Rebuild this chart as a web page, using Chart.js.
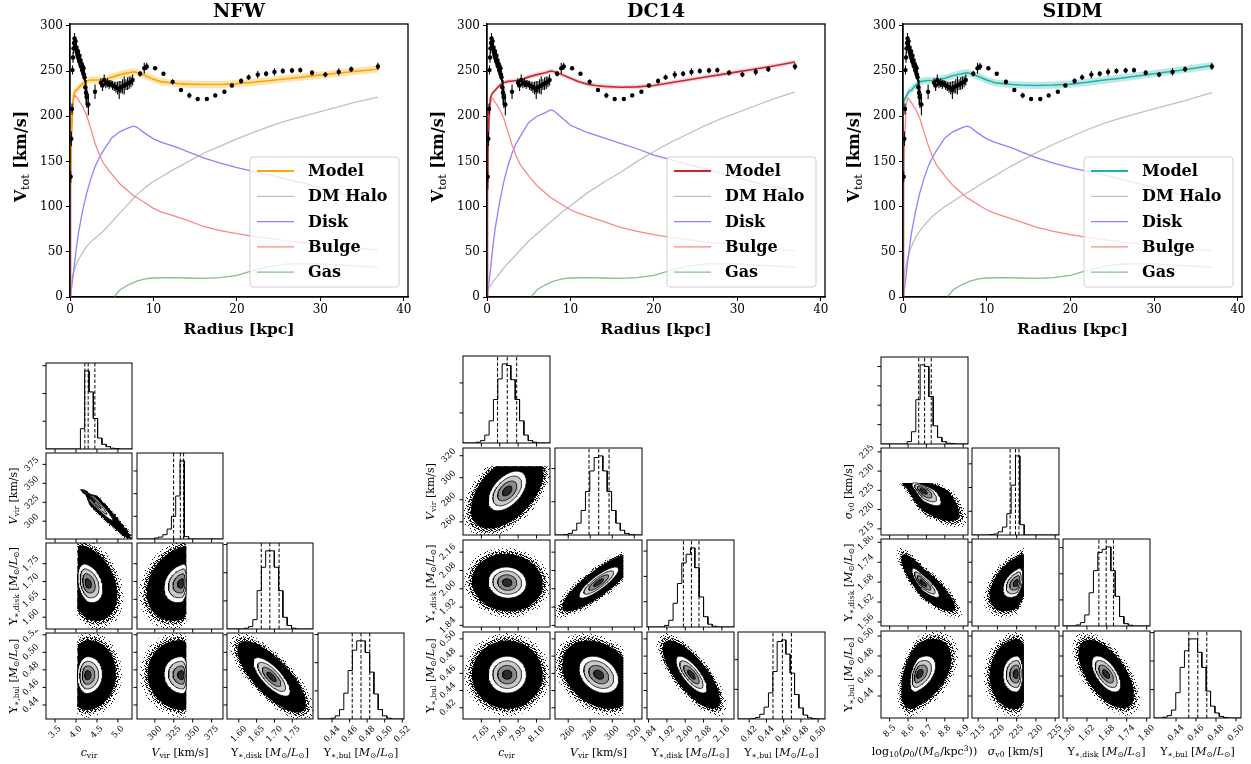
<!DOCTYPE html>
<html>
<head>
<meta charset="utf-8">
<script src="https://cdn.jsdelivr.net/npm/chart.js@4.4.1/dist/chart.umd.min.js"></script>
<style>
  body { margin: 0; background: #fff; width: 1251px; height: 764px; position: relative; overflow: hidden; }
  canvas { position: absolute; }
</style>
</head>
<body>
<script>
// ---------- rotation curve components (shared radius grid, kpc) ----------
const radius = [0, 0.1, 0.2, 0.4, 0.6, 0.8, 1, 1.5, 2, 2.5, 3, 3.5, 4, 5, 6, 7, 7.6, 8, 9, 10, 11, 12, 13, 14, 16, 18, 20, 22, 24, 26, 28, 30, 32, 34, 36.9];

const modelNFW  = [125, 160, 195, 222, 228, 229, 231, 236, 239, 240, 240, 240, 240, 243, 246, 248, 249, 248.5, 245, 241, 238, 237, 236, 235.5, 235, 235, 236, 237.5, 239.5, 241.5, 243.5, 245.5, 247.5, 249.5, 252];
const modelDC14 = [120, 160, 195, 220, 225, 227, 229, 234, 237, 238.5, 239, 239.5, 240, 243.5, 246, 248, 250, 249.5, 246, 242, 238, 235.5, 234, 233, 232, 232.5, 234, 237, 240, 243, 246, 249, 252, 255, 260];
const modelSIDM = [210, 216, 219, 222, 226, 228, 229, 234, 238, 239, 239.5, 239.5, 239.5, 242, 245, 247, 248, 247.5, 244, 240, 237, 236, 235, 234.5, 234, 234.5, 235.5, 237.5, 240, 242, 244.5, 247, 249.5, 252, 256];

const haloNFW  = [0, 12, 18, 26, 32, 37, 41, 49, 56, 61, 65, 69, 73, 83, 93, 103, 109, 113, 121, 128, 133, 139, 144, 149, 159, 167, 175, 182, 189, 195, 200, 205, 210, 215, 221];
const haloDC14 = [5, 7, 9, 12, 15, 18, 20, 26, 32, 37, 42, 47, 52, 62, 70, 78, 83, 86, 94, 101, 108, 115, 121, 127, 138, 150, 161, 171, 180, 189, 197, 204, 211, 218, 227];
const haloSIDM = [0, 20, 27, 37, 45, 51, 56, 66, 73, 79, 84, 89, 93, 100, 106, 112, 115, 117, 123, 129, 134, 140, 145, 150, 160, 169, 177, 185, 192, 198, 203, 208, 213, 218, 226];

const diskA  = [0, 6, 11, 26, 42, 57, 70, 95, 115, 131, 144, 154, 162, 176, 183, 187, 189, 188, 181, 175, 171, 168, 165, 161, 154, 148, 143, 139, 135, 130, 126, 121, 116, 111, 104];
const diskB  = [0, 7, 13, 29, 47, 63, 77, 104, 127, 145, 159, 170, 178, 193, 200, 204, 207, 206, 198, 190, 186, 182, 179, 176, 170, 164, 157, 152, 147, 142, 137, 132, 127, 122, 118];
const bulgeA = [0, 120, 180, 218, 223, 221, 218, 211, 201, 186, 170, 158, 148, 136, 125, 117, 112, 110, 104, 98, 94, 91, 88, 85, 78, 73.5, 70, 67, 64.5, 62, 60, 58, 56, 54.5, 52];
const bulgeB = [0, 118, 177, 214, 220, 218, 215, 208, 198, 183, 168, 156, 146, 134, 123, 115, 110, 108, 102, 96.5, 92.5, 89.5, 86.5, 83.5, 77, 72.5, 69, 66, 63.5, 61, 59, 57, 55, 53.5, 51];

const gasR = [5.3, 6, 7, 8, 9, 10, 12, 14, 16, 18, 20, 22, 24, 26, 28, 30, 32, 34, 36.9];
const gasV = [0, 8, 13.5, 17.5, 20, 21, 21.5, 21, 20.5, 21.5, 24, 29.5, 34, 36.5, 37, 36.5, 35.5, 34.5, 33];

// observed rotation curve
const obsR = [0.08, 0.16, 0.24, 0.3, 0.36, 0.42, 0.48, 0.54, 0.6, 0.66, 0.72, 0.78, 0.84, 0.9, 0.96, 1.02, 1.08, 1.14, 1.2, 1.26, 1.32, 1.38, 1.44, 1.5, 1.56, 1.62, 1.68, 1.74, 1.82, 1.92, 2.02, 2.2,
  3.0, 3.7, 3.9, 4.1, 4.3, 4.5, 4.7, 4.9, 5.1, 5.3, 5.5, 5.7, 5.9, 6.1, 6.3, 6.5, 6.7, 6.9, 7.1, 7.3, 7.5, 8.4, 8.9, 9.2,
  10.2, 11.2, 12.3, 13.3, 14.3, 15.3, 16.4, 17.4, 18.5, 19.4, 20.5, 21.4, 22.5, 23.5, 24.5, 25.5, 26.6, 27.6, 29.0, 30.6, 32.2, 33.7, 36.9];
const obsV = [133, 175, 208, 251, 265, 275, 281, 286, 279, 283, 276, 272, 270, 267, 272, 264, 261, 267, 259, 262, 255, 258, 251, 255, 249, 253, 246, 243, 232, 226, 221, 213,
  227, 237, 234, 240, 236, 237, 235, 236, 234, 233, 232, 231, 229, 232, 233, 234, 235, 236, 237, 238, 240, 247, 253, 255,
  253, 247, 238, 229, 223, 219, 219, 223, 227, 234, 239, 243, 246, 247, 249, 250, 250.5, 251, 248, 246, 249, 252, 255];
const obsErr = [6, 8, 6, 5, 6, 6, 5, 6, 5, 5, 6, 5, 6, 5, 6, 5, 6, 5, 5, 6, 5, 5, 6, 5, 6, 5, 6, 5, 12, 14, 12, 12,
  8, 5, 6, 6, 5, 5, 5, 4, 5, 5, 6, 7, 10, 7, 8, 10, 6, 7, 7, 6, 6, 3, 6, 4,
  2, 2, 3, 2, 3, 2, 2, 2, 2, 2, 3, 3, 4, 3, 4, 3, 3, 3, 3, 3, 4, 3, 4];

const topXTicks = [0, 10, 20, 30, 40];
const topYTicks = [0, 50, 100, 150, 200, 250, 300];

// ---------- posterior summaries ----------
// NFW: c_vir, V_vir, Y_disk, Y_bul
const rangesNFW = [[3.284, 5.336], [276.5, 390], [1.567, 1.808], [0.424, 0.522]];
const ticksNFW = [[3.5, 4.0, 4.5, 5.0], [300, 325, 350, 375], [1.60, 1.65, 1.70, 1.75], [0.44, 0.46, 0.48, 0.50, 0.52]];
const digitsNFW = [1, 0, 2, 2];
const quantNFW = [[4.211, 4.29, 4.45], [324.8, 333.7, 338.0], [1.663, 1.687, 1.713], [0.463, 0.473, 0.483]];
const histNFW = [
  [0, 0, 0, 0, 0, 0, 0, 0, .26, 1, .73, .39, .14, .06, .03, .01, .005, 0, 0, 0],
  [0, 0, 0, 0, .013, .025, .055, .127, .29, .55, 1, .03, 0, 0, 0, 0, 0, 0, 0, 0],
  [0, 0, 0, 0, .01, .03, .12, .49, .79, 1, 1, .79, .49, .15, .045, .01, 0, 0, 0, 0],
  [0, 0, 0, .01, .04, .12, .33, .62, .88, 1, 1, .85, .6, .32, .12, .04, .01, 0, 0, 0]];
const histStepNFW = [.355, .29, .36, .36];
// 2D blobs: row, col, centre, sigma (minus/plus side), correlation, clip box, cloud extent
const blobsNFW = [
  {r: 1, c: 0, mx: 4.32, my: 333, sx: [.1, .28], sy: [16, 5], rho: -.98, clip: [4.03, 9, 0, 341.5], k: 3.5},
  {r: 2, c: 0, mx: 4.28, my: 1.695, sx: [.12, .18], sy: [.027, .027], rho: -.3, clip: [4.03, 9, 0, 9], k: 3.9},
  {r: 3, c: 0, mx: 4.27, my: .474, sx: [.12, .18], sy: [.0105, .0105], rho: .05, clip: [4.03, 9, 0, 9], k: 3.8},
  {r: 2, c: 1, mx: 336, my: 1.695, sx: [12, 4], sy: [.027, .027], rho: .25, clip: [0, 341.5, 0, 9], k: 3.9},
  {r: 3, c: 1, mx: 336, my: .474, sx: [12, 4], sy: [.0105, .0105], rho: -.05, clip: [0, 341.5, 0, 9], k: 3.8},
  {r: 3, c: 2, mx: 1.692, my: .472, sx: [.026, .026], sy: [.011, .011], rho: -.75, k: 3.7}];

// DC14: c_vir, V_vir, Y_disk, Y_bul
const rangesDC14 = [[7.50, 8.21], [248, 327], [1.833, 2.213], [0.407, 0.508]];
const ticksDC14 = [[7.65, 7.80, 7.95, 8.10], [260, 280, 300, 320], [1.84, 1.92, 2.00, 2.08, 2.16], [0.42, 0.44, 0.46, 0.48, 0.50]];
const digitsDC14 = [2, 0, 2, 2];
const quantDC14 = [[7.782, 7.861, 7.938], [278.9, 287.7, 297.1], [1.992, 2.027, 2.06], [0.4476, 0.4585, 0.469]];
const histDC14 = [
  [0, 0, 0, .01, .03, .1, .28, .55, .81, 1, .98, .8, .55, .28, .1, .03, .01, 0, 0, 0],
  [0, 0, .005, .02, .06, .15, .31, .55, .81, .98, 1, .81, .55, .31, .15, .06, .02, .005, 0, 0],
  [0, 0, 0, 0, .02, .085, .3, .55, .81, .92, 1, .75, .38, .13, .035, .01, 0, 0, 0, 0],
  [0, 0, 0, .005, .02, .06, .15, .33, .6, .98, 1, .82, .58, .31, .14, .05, .015, .005, 0, 0]];
const histStepDC14 = [.38, .42, .32, .375];
const blobsDC14 = [
  {r: 1, c: 0, mx: 7.861, my: 288, sx: [.078, .078], sy: [9, 9], rho: .5, clip: [0, 99, 0, 310.5], k: 3.8},
  {r: 2, c: 0, mx: 7.861, my: 2.027, sx: [.078, .078], sy: [.034, .034], rho: -.05, k: 3.7},
  {r: 3, c: 0, mx: 7.861, my: .4585, sx: [.078, .078], sy: [.0107, .0107], rho: 0, k: 3.7},
  {r: 2, c: 1, mx: 287.7, my: 2.027, sx: [9, 9], sy: [.034, .034], rho: .85, clip: [0, 310, 0, 9], k: 3.7},
  {r: 3, c: 1, mx: 287.7, my: .4585, sx: [9, 9], sy: [.0107, .0107], rho: -.3, clip: [0, 310, 0, 9], k: 3.7},
  {r: 3, c: 2, mx: 2.027, my: .4585, sx: [.034, .034], sy: [.0107, .0107], rho: -.75, k: 3.7}];

// SIDM: log10 rho0, sigma_v0, Y_disk, Y_bul
const rangesSIDM = [[8.453, 8.926], [213.4, 236], [1.548, 1.81], [0.418, 0.505]];
const ticksSIDM = [[8.5, 8.6, 8.7, 8.8, 8.9], [215, 220, 225, 230, 235], [1.56, 1.62, 1.68, 1.74, 1.80], [0.44, 0.46, 0.48, 0.50]];
const digitsSIDM = [1, 0, 2, 2];
const quantSIDM = [[8.658, 8.690, 8.726], [223.3, 224.7, 225.6], [1.656, 1.678, 1.70], [0.4528, 0.4618, 0.4708]];
const histSIDM = [
  [0, 0, 0, 0, 0, 0, .03, .155, .56, 1, .98, .6, .23, .084, .03, .01, .005, 0, 0, 0],
  [0, 0, 0, 0, .005, .013, .04, .1, .27, .63, 1, .13, 0, 0, 0, 0, 0, 0, 0, 0],
  [0, 0, 0, .013, .043, .14, .42, .7, .93, .97, 1, .7, .375, .12, .03, .01, 0, 0, 0, 0],
  [0, 0, .01, .03, .1, .32, .64, .85, 1, 1, .83, .64, .34, .15, .064, .02, .005, 0, 0, 0]];
const histStepSIDM = [.245, .3, .33, .36];
const blobsSIDM = [
  {r: 1, c: 0, mx: 8.68, my: 225, sx: [.03, .05], sy: [2.0, 1.0], rho: -.75, clip: [0, 99, 0, 226.9], k: 4.0},
  {r: 2, c: 0, mx: 8.68, my: 1.678, sx: [.03, .045], sy: [.022, .022], rho: -.85, k: 3.9},
  {r: 3, c: 0, mx: 8.66, my: .462, sx: [.025, .045], sy: [.009, .009], rho: .45, k: 3.9},
  {r: 2, c: 1, mx: 225, my: 1.678, sx: [1.8, .8], sy: [.022, .022], rho: .45, clip: [0, 226.9, 0, 9], k: 3.9},
  {r: 3, c: 1, mx: 225, my: .462, sx: [1.8, .8], sy: [.009, .009], rho: .05, clip: [0, 226.9, 0, 9], k: 3.9},
  {r: 3, c: 2, mx: 1.678, my: .462, sx: [.022, .022], sy: [.009, .009], rho: -.6, k: 3.8}];

// axis titles as [text, style] runs: r roman, i italic, b bold, s subscript, p superscript
const lblCvir = [['c', 'i'], ['vir', 's']];
const lblVvir = [['V', 'i'], ['vir', 's'], [' [km/s]', 'r']];
const lblYdisk = [['Υ', 'r'], ['∗,disk', 's'], [' [', 'r'], ['M', 'i'], ['⊙', 's'], ['/', 'r'], ['L', 'i'], ['⊙', 's'], [']', 'r']];
const lblYbul = [['Υ', 'r'], ['∗,bul', 's'], [' [', 'r'], ['M', 'i'], ['⊙', 's'], ['/', 'r'], ['L', 'i'], ['⊙', 's'], [']', 'r']];
const lblRho = [['log', 'r'], ['10', 's'], ['(', 'r'], ['ρ', 'i'], ['0', 's'], ['/(', 'r'], ['M', 'i'], ['⊙', 's'], ['/kpc', 'r'], ['3', 'p'], ['))', 'r']];
const lblSigma = [['σ', 'i'], ['v0', 's'], [' [km/s]', 'r']];

// ---------- helpers ----------
const SERIF = '"DejaVu Serif", serif';

function addCanvas(left, top, w, h) {
  const c = document.createElement('canvas');
  c.width = w; c.height = h;
  c.style.left = left + 'px'; c.style.top = top + 'px';
  c.style.width = w + 'px'; c.style.height = h + 'px';
  document.body.appendChild(c);
  return c;
}

function runFont(style, size, bold) {
  const small = style === 's' || style === 'p';
  const it = style === 'i' ? 'italic ' : '';
  const wt = (style === 'b' || bold) && !small ? 'bold ' : '';
  return it + wt + (small ? size * 0.7 : size) + 'px ' + SERIF;
}

function richWidth(ctx, runs, size, bold) {
  let w = 0;
  runs.forEach(([t, s]) => { ctx.font = runFont(s, size, bold); w += ctx.measureText(t).width; });
  return w;
}

// draws runs centred on (x, y), rotated by angle
function drawRich(ctx, runs, x, y, size, angle, bold) {
  ctx.save();
  ctx.translate(x, y);
  ctx.rotate(angle || 0);
  ctx.fillStyle = '#000';
  ctx.textAlign = 'left';
  ctx.textBaseline = 'alphabetic';
  let cx = -richWidth(ctx, runs, size, bold) / 2;
  runs.forEach(([t, s]) => {
    ctx.font = runFont(s, size, bold);
    const dy = s === 's' ? size * 0.22 : s === 'p' ? -size * 0.38 : 0;
    ctx.fillText(t, cx, size * 0.36 + dy);
    cx += ctx.measureText(t).width;
  });
  ctx.restore();
}

const pts = (xs, ys) => xs.map((x, i) => ({x, y: ys[i]}));

// ---------- top row: rotation curves ----------
const topFrame = {
  id: 'topFrame',
  afterDraw(chart, args, o) {
    const {ctx, chartArea: a} = chart;
    ctx.save();
    ctx.strokeStyle = '#000';
    ctx.lineWidth = 1.3;
    ctx.strokeRect(a.left, a.top, a.right - a.left, a.bottom - a.top);
    ctx.fillStyle = '#000';
    ctx.textAlign = 'center';
    ctx.textBaseline = 'middle';
    ctx.font = 'bold 19px ' + SERIF;
    ctx.fillText(o.title, (a.left + a.right) / 2, 12);
    ctx.font = 'bold 15.5px ' + SERIF;
    ctx.fillText('Radius [kpc]', (a.left + a.right) / 2, 330);
    drawRich(ctx, [['V', 'b'], ['tot', 's'], [' [km/s]', 'b']], a.left - 50, (a.top + a.bottom) / 2 - 4, 16, -Math.PI / 2, true);
    ctx.restore();
  },
  afterDatasetsDraw(chart, args, o) {
    const {ctx, chartArea: a} = chart;
    const w = 149, h = 130, x = a.right - 9 - w, y = a.bottom - 10 - h;
    ctx.save();
    ctx.beginPath();
    ctx.roundRect(x, y, w, h, 3);
    ctx.fillStyle = 'rgba(255,255,255,0.8)';
    ctx.fill();
    ctx.strokeStyle = '#d0d0d0';
    ctx.lineWidth = 1;
    ctx.stroke();
    ctx.font = 'bold 16px ' + SERIF;
    ctx.textBaseline = 'middle';
    ctx.textAlign = 'left';
    o.items.forEach((it, i) => {
      const cy = y + 14 + i * 25.3;
      ctx.strokeStyle = it.color;
      ctx.lineWidth = it.width;
      ctx.beginPath(); ctx.moveTo(x + 7, cy); ctx.lineTo(x + 44, cy); ctx.stroke();
      ctx.fillStyle = '#000';
      ctx.fillText(it.label, x + 58, cy + 1);
    });
    ctx.restore();
  }
};

const panels = [
  {title: 'NFW', left: 70, right: 408, color: '#ffa500', band: 'rgba(255,165,0,0.3)', bandW: 4, model: modelNFW, halo: haloNFW, disk: diskA, bulge: bulgeA},
  {title: 'DC14', left: 487, right: 825, color: '#c8282b', band: 'rgba(200,40,43,0.18)', bandW: 2.5, model: modelDC14, halo: haloDC14, disk: diskB, bulge: bulgeB},
  {title: 'SIDM', left: 903, right: 1242, color: '#20b2aa', band: 'rgba(32,178,170,0.3)', bandW: 4, model: modelSIDM, halo: haloSIDM, disk: diskA, bulge: bulgeB}
];

const colHalo = '#c0c0c0', colDisk = '#8585ff', colBulge = '#ff8585', colGas = '#82c282';

panels.forEach(p => {
  const canvas = addCanvas(p.left - 70, 0, p.right - p.left + 82, 340);
  const errData = [];
  obsR.forEach((r, i) => {
    errData.push({x: r, y: obsV[i] - obsErr[i]}, {x: r, y: obsV[i] + obsErr[i]}, {x: r, y: null});
  });
  const line = (data, color, width, order) => ({data, borderColor: color, borderWidth: width, fill: false, order});
  new Chart(canvas, {
    type: 'line',
    data: {
      datasets: [
        {data: pts(obsR, obsV), showLine: false, pointRadius: 2.2, pointBackgroundColor: '#000', pointBorderWidth: 0, order: 0},
        {data: errData, borderColor: '#000', borderWidth: 1.1, spanGaps: false, order: 1},
        line(pts(radius, p.model), p.color, 1.6, 2),
        {data: pts(radius, p.model.map(v => v + p.bandW)), borderWidth: 0, backgroundColor: p.band, fill: '+1', order: 3},
        {data: pts(radius, p.model.map(v => v - p.bandW)), borderWidth: 0, fill: false, order: 4},
        line(pts(gasR, gasV), colGas, 1.3, 5),
        line(pts(radius, p.bulge), colBulge, 1.3, 6),
        line(pts(radius, p.disk), colDisk, 1.3, 7),
        line(pts(radius, p.halo), colHalo, 1.3, 8)
      ]
    },
    options: {
      responsive: false, animation: false, devicePixelRatio: 1,
      elements: {point: {radius: 0}, line: {tension: 0}},
      layout: {padding: {left: 0, right: 12, top: 24, bottom: 0}},
      scales: {
        x: {
          type: 'linear', min: 0, max: 40.5,
          afterBuildTicks: s => { s.ticks = topXTicks.map(v => ({value: v})); },
          afterFit: s => { s.height = 43; },
          grid: {drawOnChartArea: false, tickLength: 4, color: '#000'},
          border: {color: '#000', width: 1.3},
          ticks: {color: '#000', font: {family: SERIF, size: 12}, padding: 2, maxRotation: 0}
        },
        y: {
          type: 'linear', min: 0, max: 302,
          afterBuildTicks: s => { s.ticks = topYTicks.map(v => ({value: v})); },
          afterFit: s => { s.width = 70; },
          grid: {drawOnChartArea: false, tickLength: 4, color: '#000'},
          border: {color: '#000', width: 1.3},
          ticks: {color: '#000', font: {family: SERIF, size: 12}, padding: 3}
        }
      },
      plugins: {
        legend: {display: false}, tooltip: {enabled: false},
        topFrame: {
          title: p.title,
          items: [
            {label: 'Model', color: p.color, width: 1.8},
            {label: 'DM Halo', color: colHalo, width: 1.3},
            {label: 'Disk', color: colDisk, width: 1.3},
            {label: 'Bulge', color: colBulge, width: 1.3},
            {label: 'Gas', color: colGas, width: 1.3}
          ]
        }
      }
    },
    plugins: [topFrame]
  });
});

// ---------- bottom row: corner plots ----------
const PADL = 60, PADT = 3, PADR = 40, PADB = 46;

const cornerFrame = {
  id: 'cornerFrame',
  afterDraw(chart, args, o) {
    const {ctx, chartArea: a, scales: {x, y}} = chart;
    ctx.save();
    ctx.strokeStyle = '#000';
    ctx.lineWidth = 1;
    ctx.strokeRect(a.left, a.top, a.right - a.left, a.bottom - a.top);
    ctx.beginPath();
    o.xTicks.forEach(v => {
      const px = x.getPixelForValue(v);
      ctx.moveTo(px, a.bottom); ctx.lineTo(px, a.bottom + 3.5);
    });
    o.yTicks.forEach(v => {
      const py = y.getPixelForValue(v);
      ctx.moveTo(a.left, py); ctx.lineTo(a.left - 3.5, py);
    });
    ctx.stroke();
    ctx.font = '8.5px ' + SERIF;
    ctx.fillStyle = '#000';
    ctx.textAlign = 'center';
    ctx.textBaseline = 'middle';
    const diag = (w) => (w + 7) * 0.7071;
    if (o.xLabels) {
      o.xTicks.forEach(v => {
        const t = v.toFixed(o.xDigits);
        const d = diag(ctx.measureText(t).width);
        ctx.save();
        ctx.translate(x.getPixelForValue(v), a.bottom + 6 + d / 2);
        ctx.rotate(-Math.PI / 4);
        ctx.fillText(t, 0, 0);
        ctx.restore();
      });
      drawRich(ctx, o.xTitle, (a.left + a.right) / 2, a.bottom + 33, 11);
    }
    if (o.yLabels) {
      o.yTicks.forEach(v => {
        const t = v.toFixed(o.yDigits);
        const d = diag(ctx.measureText(t).width);
        ctx.save();
        ctx.translate(a.left - 6 - d / 2, y.getPixelForValue(v));
        ctx.rotate(-Math.PI / 4);
        ctx.fillText(t, 0, 0);
        ctx.restore();
      });
      drawRich(ctx, o.yTitle, a.left - 33, (a.top + a.bottom) / 2, 11, -Math.PI / 2);
    }
    ctx.restore();
  }
};

// closed contour of a (split) Gaussian blob at k sigma
function blobOutline(b, k) {
  const out = [];
  const s = Math.sqrt(1 - b.rho * b.rho);
  const clip = b.clip || [-1e9, 1e9, -1e9, 1e9];
  for (let i = 0; i <= 90; i++) {
    const t = i / 90 * 2 * Math.PI;
    const u = k * Math.cos(t);
    const v = k * (b.rho * Math.cos(t) + s * Math.sin(t));
    const x = b.mx + u * (u > 0 ? b.sx[1] : b.sx[0]);
    const y = b.my + v * (v > 0 ? b.sy[1] : b.sy[0]);
    out.push({x: Math.min(Math.max(x, clip[0]), clip[1]), y: Math.min(Math.max(y, clip[2]), clip[3])});
  }
  return out;
}

// dotted fill for the sparse outskirts of the sample cloud
const denseDots = [[0, 0], [2, 0], [5, 0], [1, 1], [4, 1], [6, 1], [0, 2], [3, 2], [5, 2], [7, 2], [1, 3], [2, 3], [6, 3],
  [0, 4], [3, 4], [4, 4], [7, 4], [1, 5], [5, 5], [6, 5], [2, 6], [3, 6], [7, 6], [0, 7], [4, 7], [5, 7]];
const sparseDots = [[1, 0], [5, 1], [3, 3], [7, 4], [0, 5], [4, 6], [6, 7], [2, 7]];
function dotPattern(canvas, dots) {
  const tile = document.createElement('canvas');
  tile.width = tile.height = 8;
  const g = tile.getContext('2d');
  g.fillStyle = '#111';
  dots.forEach(([x, y]) => g.fillRect(x, y, 1, 1));
  return canvas.getContext('2d').createPattern(tile, 'repeat');
}

function blobSets(b, canvas) {
  // innermost first so it is drawn on top
  const layers = [
    {k: 0.5, fill: '#2b2b2b', line: 0.8},
    {k: 1.0, fill: '#8c8c8c', line: 0.8},
    {k: 1.5, fill: '#c9c9c9', line: 0.8},
    {k: 2.0, fill: '#ffffff', line: 0.8},
    {k: b.k, fill: '#000000', line: 0},
    {k: b.k * 1.1, fill: dotPattern(canvas, denseDots), line: 0},
    {k: b.k * 1.22, fill: dotPattern(canvas, sparseDots), line: 0}
  ];
  return layers.map((l, i) => ({
    data: blobOutline(b, l.k), fill: 'shape', backgroundColor: l.fill,
    borderColor: '#000', borderWidth: l.line, order: i
  }));
}

function histSets(range, heights, quant) {
  const n = heights.length, w = (range[1] - range[0]) / n;
  const step = [{x: range[0], y: 0}];
  heights.forEach((h, i) => {
    step.push({x: range[0] + i * w, y: h}, {x: range[0] + (i + 1) * w, y: h});
  });
  step.push({x: range[1], y: 0});
  const sets = [{data: step, borderColor: '#000', borderWidth: 1, fill: false, order: 1}];
  quant.forEach(q => sets.push({data: [{x: q, y: 0}, {x: q, y: 1.1}], borderColor: '#000', borderWidth: 1, borderDash: [3.5, 2], fill: false, order: 0}));
  return sets;
}

const corners = [
  {x0: 46, y0: 362.7, dx: 90.6, dy: 90, size: 86, ranges: rangesNFW, ticks: ticksNFW, digits: digitsNFW, quant: quantNFW, hist: histNFW, histStep: histStepNFW, blobs: blobsNFW,
   titles: [lblCvir, lblVvir, lblYdisk, lblYbul]},
  {x0: 463.3, y0: 356, dx: 91.7, dy: 91.9, size: 87, ranges: rangesDC14, ticks: ticksDC14, digits: digitsDC14, quant: quantDC14, hist: histDC14, histStep: histStepDC14, blobs: blobsDC14,
   titles: [lblCvir, lblVvir, lblYdisk, lblYbul]},
  {x0: 880.7, y0: 356.7, dx: 91.2, dy: 91.3, size: 87, ranges: rangesSIDM, ticks: ticksSIDM, digits: digitsSIDM, quant: quantSIDM, hist: histSIDM, histStep: histStepSIDM, blobs: blobsSIDM,
   titles: [lblRho, lblSigma, lblYdisk, lblYbul]}
];

corners.forEach(cfg => {
  for (let r = 0; r < 4; r++) {
    for (let c = 0; c <= r; c++) {
      const left = cfg.x0 + c * cfg.dx, top = cfg.y0 + r * cfg.dy;
      const canvas = addCanvas(Math.round(left) - PADL, Math.round(top) - PADT, cfg.size + PADL + PADR, cfg.size + PADT + PADB);
      const isHist = r === c;
      const datasets = isHist
        ? histSets(cfg.ranges[c], cfg.hist[c], cfg.quant[c])
        : blobSets(cfg.blobs.find(b => b.r === r && b.c === c), canvas);
      const yTicks = isHist
        ? [1, 2, 3, 4].map(m => m * cfg.histStep[c]).filter(v => v < 1.1)
        : cfg.ticks[r];
      new Chart(canvas, {
        type: 'line',
        data: {datasets},
        options: {
          responsive: false, animation: false, devicePixelRatio: 1,
          elements: {point: {radius: 0}, line: {tension: 0}},
          layout: {padding: {left: PADL, top: PADT, right: PADR, bottom: PADB}},
          scales: {
            x: {type: 'linear', display: false, min: cfg.ranges[c][0], max: cfg.ranges[c][1]},
            y: {type: 'linear', display: false, min: isHist ? 0 : cfg.ranges[r][0], max: isHist ? 1.1 : cfg.ranges[r][1]}
          },
          plugins: {
            legend: {display: false}, tooltip: {enabled: false},
            cornerFrame: {
              xTicks: cfg.ticks[c], yTicks,
              xLabels: r === 3, xDigits: cfg.digits[c], xTitle: cfg.titles[c],
              yLabels: c === 0 && r > 0, yDigits: cfg.digits[r], yTitle: cfg.titles[r]
            }
          }
        },
        plugins: [cornerFrame]
      });
    }
  }
});
</script>
</body>
</html>
